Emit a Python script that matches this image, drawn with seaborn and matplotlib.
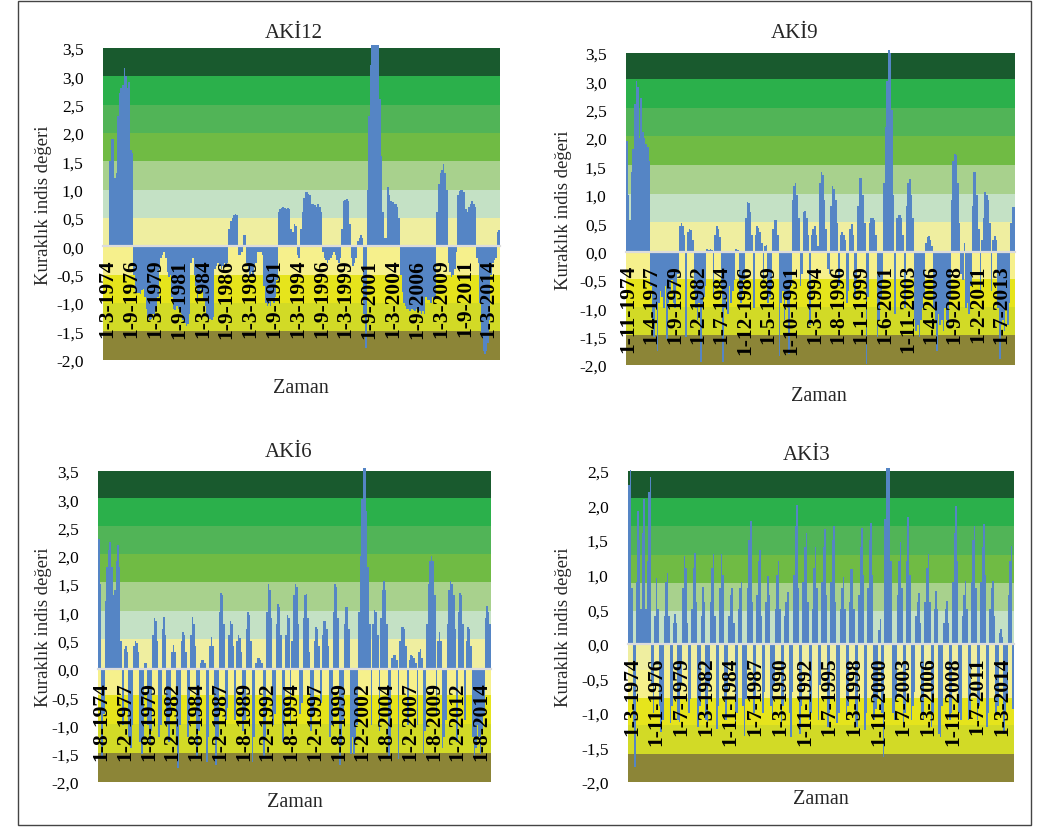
import numpy as np
import pandas as pd
import matplotlib
matplotlib.use("Agg")
import matplotlib.pyplot as plt
from matplotlib.patches import Rectangle
from matplotlib.ticker import FuncFormatter
import seaborn as sns

# drought index values in 2-month steps
aki12_values = [
    0, 0, 0, 0, 1.5, 1.9, 1.9, 1.2, 1.3, 2.3,
    2.7, 2.8, 2.85, 3.15, 3.0, 2.8, 2.9, 1.7, 1.65, -0.5,
    -0.8, -0.82, -0.83, -0.85, -0.78, -0.75, -0.9, -1.1, -1.25, -1.3,
    -1.28, -1.2, -1.25, -1.1, -0.9, -0.4, -0.2, -0.15, -0.1, -0.2,
    -0.45, -0.55, -0.5, -0.9, -1.1, -1.12, -1.05, -1.1, -1.15, -1.2,
    -1.3, -1.35, -1.4, -1.38, -1.2, -0.3, -0.2, -0.5, -0.7, -0.95,
    -0.85, -0.75, -0.8, -0.95, -1.05, -1.25, -1.3, -1.28, -1.3, -1.25,
    -0.4, -0.35, -0.3, -0.35, -0.4, -0.35, -0.3, -0.35, -0.3, 0.3,
    0.45, 0.5, 0.55, 0.57, 0.55, -0.15, -0.15, -0.1, 0.2, 0.2,
    -0.3, -0.4, -0.5, -0.45, -0.5, -0.35, -0.3, -0.1, -0.1, -0.1,
    -0.15, -0.7, -1.0, -1.05, -1.0, -1.05, -0.95, -1.0, -0.9, -0.6,
    0.6, 0.65, 0.67, 0.7, 0.68, 0.66, 0.67, 0.65, 0.3, 0.25,
    0.4, 0.35, -0.15, -0.2, 0.3, 0.6, 0.85, 0.95, 0.95, 0.93,
    0.9, 0.75, 0.75, 0.72, 0.7, 0.75, 0.7, 0.6, -0.1, -0.2,
    -0.25, -0.3, -0.25, -0.2, -0.15, -0.1, -0.15, -0.25, -0.3, -0.2,
    0.3, 0.8, 0.82, 0.83, 0.8, 0.4, -0.2, -0.35, -0.3, -0.2,
    0.1, 0.15, 0.2, 0.15, -1.2, -1.8, 1.0, 2.3, 3.2, 3.55,
    3.55, 3.55, 3.55, 3.55, 2.6, 1.6, 0.6, 0.15, 0.15, 1.05,
    0.9, 0.8, 0.78, 0.75, 0.75, 0.7, 0.5, -0.5, -0.8, -1.0,
    -1.05, -1.1, -1.1, -1.15, -1.1, -1.12, -1.15, -1.1, -1.12, -1.15,
    -1.2, -1.15, -1.2, -0.9, -0.95, -0.95, -1.0, -0.9, -0.95, -0.9,
    0.6, 1.1, 1.3, 1.35, 1.45, 1.3, 1.0, -0.3, -0.45, -0.55,
    -0.5, -0.4, -0.1, 0.9, 0.98, 1.0, 1.0, 0.95, 0.65, 0.6,
    0.7, 0.75, 0.8, 0.75, 0.7, -0.2, -0.3, -1.0, -1.6, -1.85,
    -1.9, -1.85, -1.7, -1.3, -0.5, -0.3, -0.25, -0.2, 0.25, 0.28,
]

aki9_values = [
    1.95, 1.0, 0.55, 1.4, 1.8, 2.6, 3.0, 2.9, 2.0, 2.7, 2.1, 2.0, 1.9, 1.85, 1.6,
    -0.6, -1.2, -1.5, -1.0, -1.75, -0.9, -0.7, -0.8, -1.0, -0.6, -1.55, -0.9,
    -0.7, -0.5, -0.9, -1.0, -0.6, -0.4,
    0.45, 0.5, 0.45, 0.3, -1.5, 0.35, 0.4, 0.38, 0.2,
    -0.7, -1.0, -1.2, -0.9, -1.95, -1.0, -0.8, -0.6,
    0.05, 0.03, 0.05, 0.02, -0.8, 0.3, 0.45, 0.4, 0.25,
    -0.6, -1.95, -1.0, -0.8, -1.1, -0.6, -0.9, -0.7, -0.5,
    0.05, 0.03, -0.8, -0.9, -0.7, -0.5,
    0.6, 0.88, 0.85, 0.7, 0.3, -1.0, 0.3, 0.45, 0.42, 0.35, 0.15,
    -0.5, 0.1, 0.12, -0.9, -0.8, -0.6, 0.4, 0.55, 0.55, 0.3,
    -1.85, -0.9, -0.7, -1.2, -0.8, -1.0, -1.8, -0.6,
    0.9, 1.15, 1.2, 1.0, 0.6, -0.6, -0.4, 0.7, 0.72, 0.6, 0.3, -1.3,
    0.3, 0.4, 0.45, 0.3, 0.1, 1.2, 1.4, 1.35, 0.9, 0.4, -0.3, -0.4,
    0.8, 1.15, 1.1, 0.9, 0.5, -0.6, 0.3, 0.35, 0.3, 0.2, -0.9, -0.7,
    0.4, 0.48, 0.3, -0.8, -0.5, 0.8, 1.3, 1.3, 1.0, 0.5, -1.98, -0.8,
    0.5, 0.6, 0.6, 0.55, 0.3, -1.5, -1.2, -0.8, -0.5,
    1.2, 2.2, 3.0, 3.55, 3.5, 2.5, 1.0, -1.1,
    0.6, 0.65, 0.65, 0.6, 0.3, -1.0, 0.8, 1.2, 1.28, 1.0, 0.6,
    -1.2, -1.4, -1.3, -1.5, -1.2, -1.0, -0.8,
    0.15, 0.25, 0.28, 0.2, 0.1,
    -1.0, -1.2, -1.75, -1.1, -1.3, -1.2, -1.4, -1.0, -1.2, -1.3, -0.8,
    0.9, 1.6, 1.72, 1.7, 1.2, 0.5, -0.4, -0.5, 0.15, -1.0, -0.9, -1.1, -0.6,
    0.8, 1.4, 1.4, 1.0, 0.4, -0.7, 0.2, 0.6, 1.05, 1.0, 0.9, 0.5, -0.7,
    0.2, 0.27, 0.2, -1.0, -1.9, -1.3, -1.2, -1.4, -1.0, -1.3, -0.9,
    0.5, 0.78, 0.78,
]

aki6_values = [
    2.3, 1.5, -1.6, -0.8, 1.2, 1.8, 2.1, 2.25, 1.8, 1.3, 1.4, 1.9, 2.2, 1.8, 0.5, -1.0,
    0.35, 0.4, 0.3, -1.2, -1.4, -1.0, 0.4, 0.5, 0.45, 0.3, -1.3, -1.5, -1.2, 0.1, 0.1,
    -1.0, -1.3, -1.1,
    0.6, 0.9, 0.85, 0.5, -1.2, -1.0, 0.7, 0.92, 0.6, -1.0, -1.3, -0.8, 0.3, 0.42, 0.3,
    -1.2, -1.75, -1.0,
    0.5, 0.65, 0.6, 0.3, -1.2, -0.9, 0.6, 0.92, 0.8, 0.4, -1.6, -1.1, 0.1, 0.15, 0.15,
    0.1, -1.65, -1.2,
    0.4, 0.57, 0.4, -1.0, -1.7, -1.2, 1.0, 1.35, 1.3, 0.8, -0.9, -0.7, 0.6, 0.85, 0.8,
    0.4, -0.9,
    0.5, 0.6, 0.55, 0.3, -1.1, -0.9, 0.7, 1.0, 0.95, 0.5, -1.65, -1.2, 0.1, 0.2, 0.2,
    0.15, 0.1, -1.6, -1.2,
    1.0, 1.5, 1.4, 0.9, -1.0, -0.8, 0.8, 1.15, 1.1, 0.6, -1.3, -0.9, 0.6, 0.95, 0.9, -1.0,
    0.5, 1.3, 1.5, 1.45, 0.8, -0.8, -0.6, 0.9, 1.3, 1.32, 0.9, 0.3, -1.1, -0.8,
    0.5, 0.75, 0.7, 0.4, -0.6, 0.6, 0.85, 0.85, 0.7, 0.4, -1.2, -1.0,
    1.0, 1.5, 1.45, 0.9, -1.7, -1.3, -0.9, 0.8, 1.1, 1.1, 0.7, -1.5, -1.2, -1.5, -1.3, -1.0,
    1.0, 2.0, 3.0, 3.55, 3.55, 2.8, 1.8, 0.8, -1.0, 0.8, 1.05, 1.0, 0.6, -1.1,
    0.9, 1.4, 1.55, 1.4, 0.8, -1.55, -1.2, 0.2, 0.25, 0.25, 0.15, -1.6,
    0.5, 0.75, 0.75, 0.7, 0.4, -1.0, 0.15, 0.25, 0.22, 0.2, 0.1, -1.0, 0.3, 0.35, 0.2,
    -1.5, -1.1,
    0.8, 1.5, 1.9, 2.0, 1.9, 1.3, -0.8, 0.5, 0.65, 0.5, -1.4, -1.2, -0.9,
    0.8, 1.4, 1.55, 1.5, 1.3, 0.7, -1.3, 1.0, 1.35, 1.3, 0.8, -0.9, 0.5, 0.75, 0.7, 0.4,
    -1.2, -1.6, -1.4, -1.0, -1.2, -1.5, -1.1, -0.8, 0.9, 1.12, 1.0, 0.8,
]

aki3_values = [
    2.3, 2.51, 0.8, -1.2, -1.79, 0.9, 1.92, 1.5, 0.5, 1.6,
    2.1, 0.5, 1.2, 2.2, 2.42, -0.6, -1.0, 0.4, 0.95, 0.5,
    -0.9, -1.28, -1.1, 0.4, 0.9, 1.03, 0.4, -1.14, -0.9, 0.3,
    0.43, 0.3, -1.1, -1.13, -0.6, 0.8, 1.27, 1.1, 0.3, -1.0,
    -0.8, 0.5, 1.1, 1.32, 0.6, -1.2, -0.9, 0.4, 0.82, 0.6,
    -1.1, -1.15, -0.6, 0.6, 1.1, 1.3, 0.4, -1.24, -0.9, 0.8,
    1.3, 1.0, -0.8, -1.1, -0.7, 0.4, 0.7, 0.8, 0.3, -1.2,
    -1.0, 0.5, 0.8, 0.9, -0.9, -1.33, -0.8, 0.8, 1.5, 1.78,
    0.6, -1.0, -0.8, 0.7, 1.2, 1.36, 0.4, -1.0, -0.7, 0.6,
    0.98, 0.7, -0.9, -1.1, -0.6, 0.5, 1.0, 1.2, 0.5, -1.2,
    -0.9, 0.4, 0.6, 0.75, -1.0, -1.35, -0.7, 1.0, 1.7, 2.01,
    0.8, -1.3, -0.9, 0.9, 1.4, 1.61, 0.6, -1.1, -1.0, 0.5,
    1.1, 1.4, 0.8, -1.1, -0.6, 0.9, 1.4, 1.66, 0.7, -1.2,
    -1.0, 0.9, 1.5, 1.71, 0.6, -1.15, -1.0, 0.5, 0.8, 0.96,
    0.5, -1.1, -0.9, 0.6, 1.08, 1.08, 0.5, -1.2, -1.2, 0.7,
    1.4, 1.68, 1.0, -1.25, -1.0, 0.8, 1.5, 1.75, 1.0, -1.1,
    -0.95, -0.8, 0.2, 0.36, -1.0, -1.64, 1.8, 2.55, 2.55, 2.55,
    1.2, -1.0, -1.1, -0.8, 0.7, 1.2, 1.47, 0.8, -1.2, -1.0,
    1.2, 1.83, 1.0, -1.1, -0.9, -0.7, 0.4, 0.6, 0.74, 0.3,
    -1.0, -1.1, 0.6, 1.1, 1.3, 0.6, -1.2, -1.0, 0.5, 0.77,
    0.5, -1.3, -1.35, -0.9, 0.3, 0.5, 0.62, 0.3, -1.1, -1.0,
    0.9, 1.6, 2.0, 1.2, -1.0, -1.1, 0.4, 0.7, 0.91, 0.5,
    -1.1, -1.0, 0.9, 1.5, 1.71, 0.8, -1.1, -0.9, 0.9, 1.4,
    1.74, 1.0, -1.2, -1.0, 0.5, 0.8, 0.91, 0.4, -1.0, -0.9,
    0.15, 0.21, 0.1, -1.3, -1.0, -0.8, 0.7, 1.2, 1.42, -0.95,
]

aki12_ticks = ["1-3-1974", "1-9-1976", "1-3-1979", "1-9-1981", "1-3-1984", "1-9-1986",
               "1-3-1989", "1-9-1991", "1-3-1994", "1-9-1996", "1-3-1999", "1-9-2001",
               "1-3-2004", "1-9-2006", "1-3-2009", "1-9-2011", "1-3-2014"]
aki9_ticks = ["1-11-1974", "1-4-1977", "1-9-1979", "1-2-1982", "1-7-1984", "1-12-1986",
              "1-5-1989", "1-10-1991", "1-3-1994", "1-8-1996", "1-1-1999", "1-6-2001",
              "1-11-2003", "1-4-2006", "1-9-2008", "1-2-2011", "1-7-2013"]
aki6_ticks = ["1-8-1974", "1-2-1977", "1-8-1979", "1-2-1982", "1-8-1984", "1-2-1987",
              "1-8-1989", "1-2-1992", "1-8-1994", "1-2-1997", "1-8-1999", "1-2-2002",
              "1-8-2004", "1-2-2007", "1-8-2009", "1-2-2012", "1-8-2014"]
aki3_ticks = ["1-3-1974", "1-11-1976", "1-7-1979", "1-3-1982", "1-11-1984", "1-7-1987",
              "1-3-1990", "1-11-1992", "1-7-1995", "1-3-1998", "1-11-2000", "1-7-2003",
              "1-3-2006", "1-11-2008", "1-7-2011", "1-3-2014"]

# class bands behind the bars (top to bottom)
band_colors = ["#195a2e", "#2bb04b", "#51b457", "#70bb44", "#a8d18d", "#c4e1c5",
               "#efeea0", "#f6f08c", "#e6e41c", "#d2da26", "#8c8537"]
edges_aki12 = [3.5, 3.0, 2.5, 2.0, 1.5, 1.0, 0.5, 0.0, -0.5, -1.0, -1.5, -2.0]
edges_aki9 = [3.5, 3.04, 2.53, 2.03, 1.53, 1.02, 0.52, 0.0, -0.48, -0.97, -1.47, -2.0]
edges_aki6 = [3.5, 3.03, 2.53, 2.03, 1.53, 1.03, 0.53, 0.0, -0.47, -0.97, -1.48, -2.0]
edges_aki3 = [2.5, 2.11, 1.70, 1.29, 0.88, 0.47, 0.0, -0.38, -0.78, -1.18, -1.6, -2.0]

BAR = "#5585c5"
W, H = 1040, 828

sns.set_style("white")
plt.rcParams["font.family"] = ["Liberation Serif", "DejaVu Serif"]

fig = plt.figure(figsize=(W / 100, H / 100), dpi=100)


def rect(l, t, r, b):
    return [l / W, 1 - b / H, (r - l) / W, (b - t) / H]


def draw(box, title, title_xy, ylab_xy, xlab_xy, values, edges, ticks,
         first, step, ylim):
    ax = fig.add_axes(rect(*box))
    ax.set_axisbelow(False)  # date labels sit on top of the bars
    for top, bot, c in zip(edges[:-1], edges[1:], band_colors):
        ax.axhspan(bot, top, color=c, lw=0, zorder=0)
    n_before = len(ax.patches)
    df = pd.DataFrame({"month": 2 * np.arange(len(values)) + 1, "value": values})
    sns.barplot(data=df, x="month", y="value", native_scale=True, width=1.0,
                color=BAR, saturation=1, linewidth=0, errorbar=None, ax=ax, zorder=1)
    for p in ax.patches[n_before:]:
        p.set_clip_on(False)
    ax.set_xlim(0, 2 * len(values))
    ax.set_ylim(*ylim)
    ax.set_xlabel("")
    ax.set_ylabel("")
    # spine first: moving it resets the tick objects
    for s in ("left", "right", "top"):
        ax.spines[s].set_visible(False)
    ax.spines["bottom"].set_position(("data", 0))
    ax.spines["bottom"].set_color("#dcdcdc")
    ax.spines["bottom"].set_linewidth(1.6)

    ax.set_xticks([first + step * k for k in range(len(ticks))])
    ax.set_xticklabels(ticks, rotation=90, fontsize=15.5, fontweight="bold")
    ax.set_yticks(np.arange(ylim[0], ylim[1] + 0.01, 0.5))
    ax.yaxis.set_major_formatter(FuncFormatter(lambda v, _: f"{v:.1f}".replace(".", ",")))
    ax.tick_params(axis="y", length=0, pad=14, labelsize=12.5, colors="black")
    ax.tick_params(axis="x", length=0, pad=9, colors="black")

    fig.text(title_xy[0] / W, 1 - title_xy[1] / H, title, ha="center", va="center",
             fontsize=15)
    fig.text(ylab_xy[0] / W, 1 - ylab_xy[1] / H, "Kuraklık indis değeri", rotation=90,
             ha="center", va="center", fontsize=13.5)
    fig.text(xlab_xy[0] / W, 1 - xlab_xy[1] / H, "Zaman", ha="center", va="center",
             fontsize=14.5)
    return ax


draw((103, 49, 500, 360.5), "AKİ12", (294, 33), (44, 205), (301, 389),
     aki12_values, edges_aki12, aki12_ticks, 5.7, 30, (-2.0, 3.5))
draw((626, 54, 1015, 366), "AKİ9", (795, 33), (563, 210), (819, 397),
     aki9_values, edges_aki9, aki9_ticks, 3, 29, (-2.0, 3.5))
draw((98.3, 472, 491, 783), "AKİ6", (289, 453), (44, 627), (295, 803),
     aki6_values, edges_aki6, aki6_ticks, 4, 30, (-2.0, 3.5))
draw((628, 472, 1014, 783), "AKİ3", (807, 456), (564, 627), (821, 800),
     aki3_values, edges_aki3, aki3_ticks, 5, 32, (-2.0, 2.5))

fig.add_artist(Rectangle((18 / W, 2 / H), 1013 / W, 824 / H, transform=fig.transFigure,
                         fill=False, lw=1.0, ec="#444444"))

fig.savefig("out.png", dpi=100)
